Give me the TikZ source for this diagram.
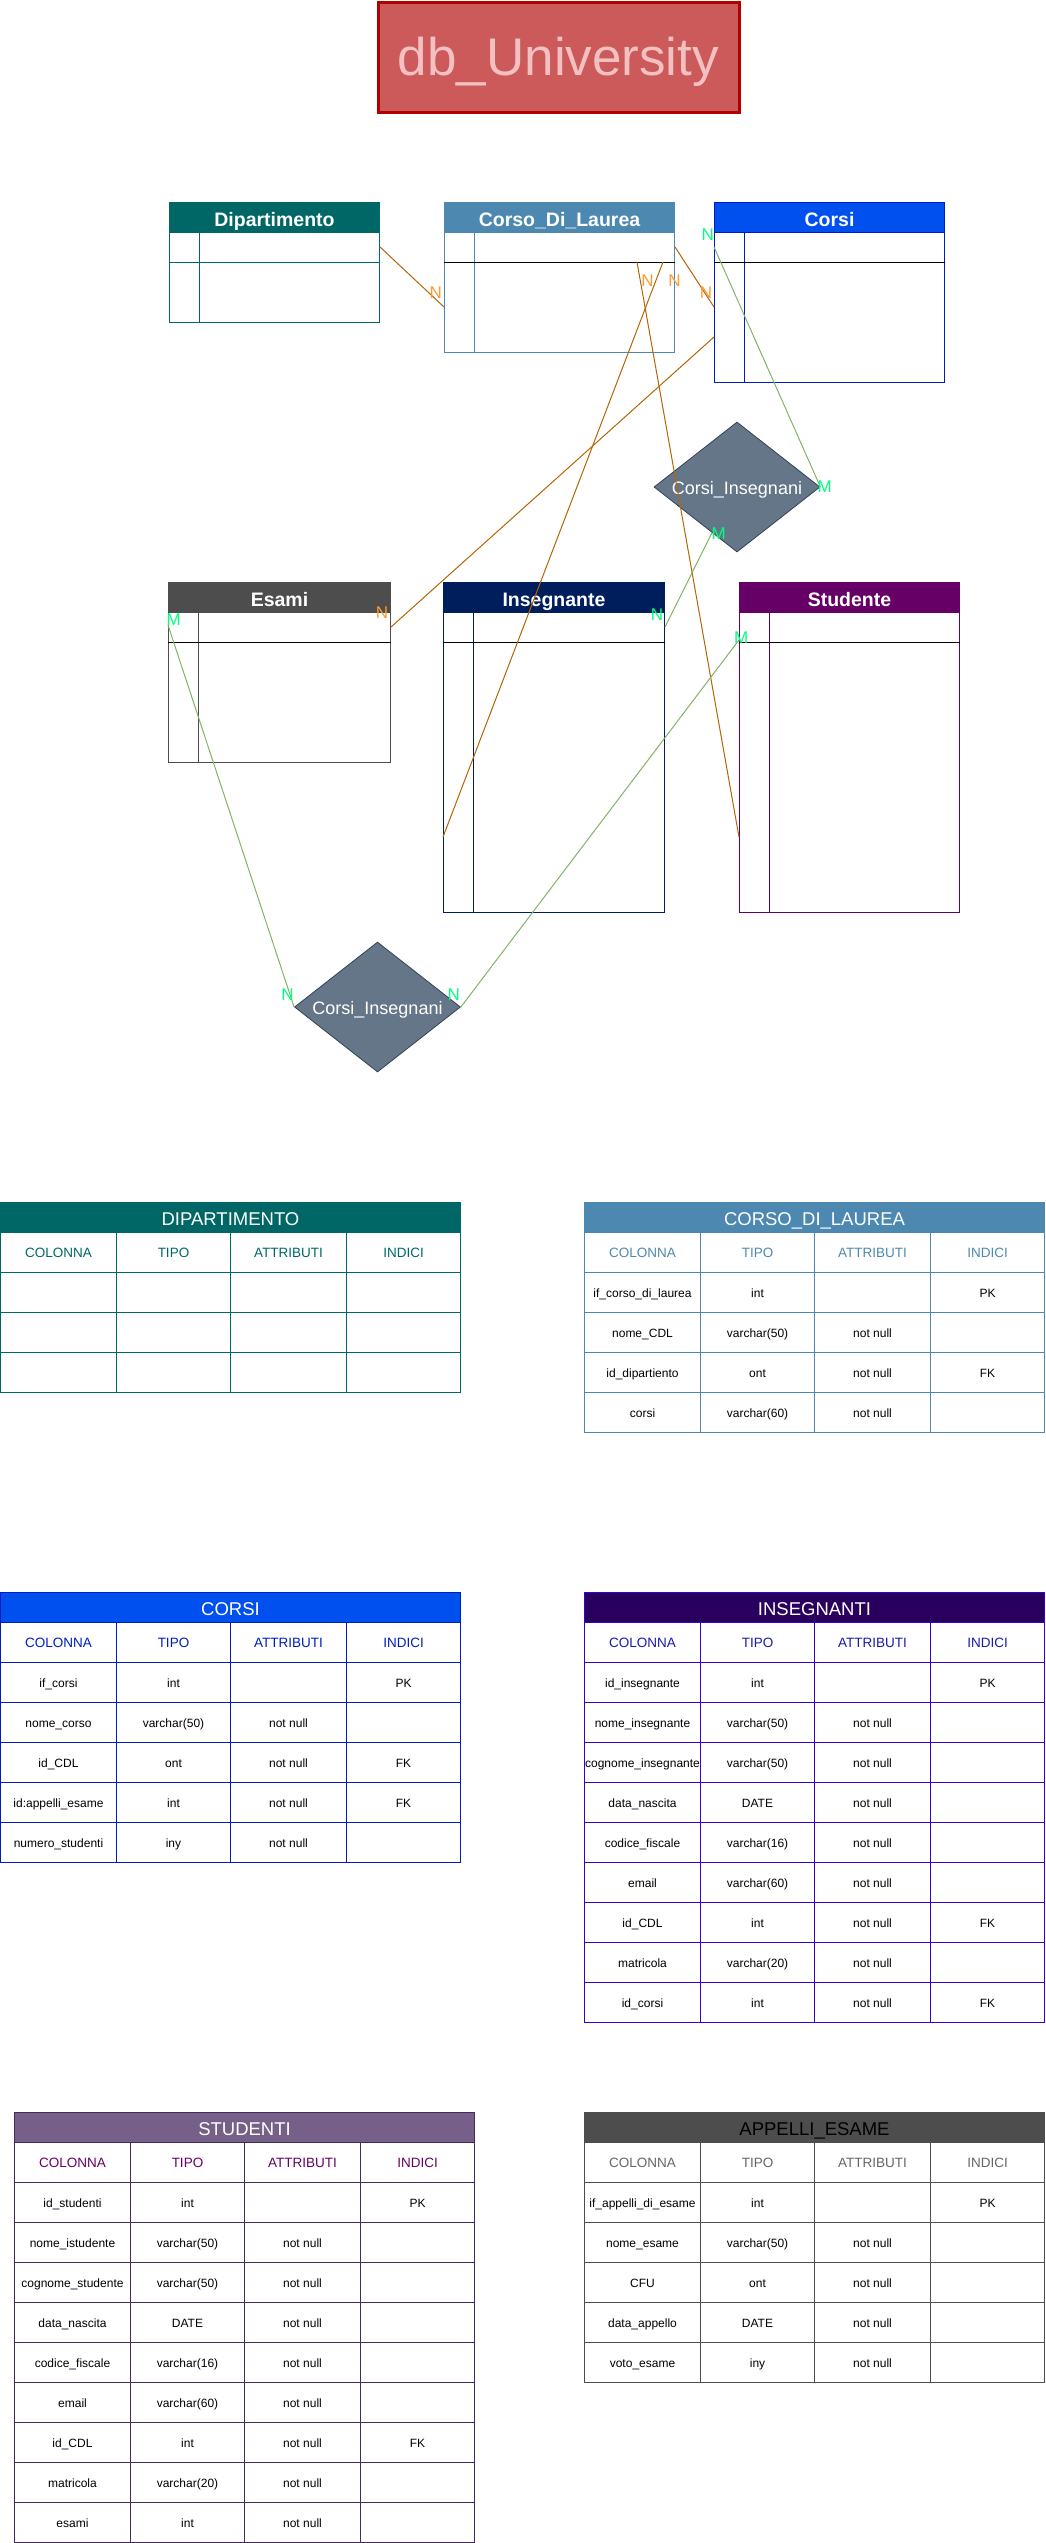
\documentclass[tikz,border=0pt]{standalone}
\usepackage{fontspec}
\setmainfont{Liberation Sans}
\usetikzlibrary{shapes.geometric,calc}

% palette
\definecolor{dipc}{HTML}{006666}
\definecolor{cdlc}{HTML}{4D88B0}
\definecolor{corsic}{HTML}{0050EF}
\definecolor{corsib}{HTML}{001DBC}
\definecolor{esamic}{HTML}{4D4D4D}
\definecolor{insc}{HTML}{001E5C}
\definecolor{stuc}{HTML}{660066}
\definecolor{relfill}{HTML}{647687}
\definecolor{reldraw}{HTML}{314354}
\definecolor{fkline}{HTML}{B46504}
\definecolor{fklab}{HTML}{FF9933}
\definecolor{mmline}{HTML}{82B366}
\definecolor{mmlab}{HTML}{00FF80}
\definecolor{titlefill}{HTML}{CC5A5A}
\definecolor{titledraw}{HTML}{B20000}
\definecolor{titletext}{HTML}{F2C0C0}
\definecolor{insgfill}{HTML}{2A005E}
\definecolor{insgdraw}{HTML}{3700CC}
\definecolor{insgtext}{HTML}{1A1AA6}
\definecolor{stugfill}{HTML}{76608A}
\definecolor{stugdraw}{HTML}{432D57}
\definecolor{appgtext}{HTML}{666666}

\newcommand{\colfnt}{\fontsize{13.5}{16}\selectfont}
\newcommand{\cellfnt}{\fontsize{12}{14}\selectfont}

\tikzset{
  entbox/.style={draw, anchor=north west, inner sep=0pt, line width=1pt},
  enthead/.style={draw, anchor=north west, inner sep=0pt, minimum height=30pt,
    line width=1pt, text=white, text height=18pt, text depth=0pt,
    font=\bfseries\fontsize{19.5}{22}\selectfont},
  rel/.style={diamond, aspect=1.277, minimum width=166pt, minimum height=130pt,
    inner sep=0pt, fill=relfill, draw=reldraw, line width=0.8pt, text=white,
    text height=14pt, text depth=0pt, font=\fontsize{18}{20}\selectfont},
  fkedge/.style={draw=fkline, line width=1pt},
  mmedge/.style={draw=mmline, line width=1pt},
  card/.style={inner sep=0pt, font=\fontsize{17}{18}\selectfont},
  fkcard/.style={card, text=fklab},
  mmcard/.style={card, text=mmlab},
  tblhead/.style={draw, anchor=north west, minimum width=460pt, minimum height=30pt,
    inner sep=0pt, line width=1pt, text height=15pt, text depth=0pt,
    font=\fontsize{18.5}{21}\selectfont},
  cell/.style={draw, anchor=north west, minimum height=40pt, inner sep=0pt,
    line width=1pt, text height=10pt, text depth=0pt},
}

% ER entity: name, top-left, width, height, title, header fill, rule colour
\newcommand{\entity}[7]{%
  \node[entbox, draw=#7, minimum width=#3pt, minimum height=#4pt] (#1) at (#2) {};
  \node[enthead, fill=#6, draw=#7, minimum width=#3pt] (#1-h) at (#1.north west) {#5};
  \draw[#7, line width=1pt] ($(#1.north west)+(30,30)$) -- ($(#1.south west)+(30,0)$);
}

% table: name, top-left, title, head fill, rule colour, title colour, column-title colour, rows
\newcommand{\dbtable}[8]{%
  \node[tblhead, fill=#4, draw=#5, text=#6] (#1-h) at (#2) {#3};
  \foreach \ca/\cb/\cc/\cd [count=\rw] in {COLONNA/TIPO/ATTRIBUTI/INDICI,#8} {
    \ifnum\rw=1 \def\tc{#7}\def\fs{\colfnt}\else\def\tc{black}\def\fs{\cellfnt}\fi
    \node[cell, draw=#5, text=\tc, minimum width=116pt] (#1-\rw-1)
      at ([shift={(0,30+40*(\rw-1))}]#2) {\fs\ca};
    \node[cell, draw=#5, text=\tc, minimum width=114pt] (#1-\rw-2)
      at ([shift={(116,30+40*(\rw-1))}]#2) {\fs\cb};
    \node[cell, draw=#5, text=\tc, minimum width=116pt] (#1-\rw-3)
      at ([shift={(230,30+40*(\rw-1))}]#2) {\fs\cc};
    \node[cell, draw=#5, text=\tc, minimum width=114pt] (#1-\rw-4)
      at ([shift={(346,30+40*(\rw-1))}]#2) {\fs\cd};
  }
}

\begin{document}
\begin{tikzpicture}[x=1pt, y=-1pt]
\useasboundingbox (0,0) rectangle (1045,2543);

% title
\node[draw=titledraw, fill=titlefill, line width=3pt, minimum width=361pt,
  minimum height=110pt, inner sep=0pt, text=titletext, text height=36pt,
  text depth=0pt, font=\fontsize{53}{58}\selectfont] (title) at (558.5,57) {db\_University};

% ER entities
\entity{dip}{169,202}{210}{120}{Dipartimento}{dipc}{dipc}
\draw[dipc, line width=1pt] ($(dip.north west)+(0,60)$) -- ($(dip.north east)+(0,60)$);
\entity{cdl}{444,202}{230}{150}{Corso\_Di\_Laurea}{cdlc}{cdlc}
\draw[black, line width=1pt] ($(cdl.north west)+(0,60)$) -- ($(cdl.north east)+(0,60)$);
\entity{corsi}{714,202}{230}{180}{Corsi}{corsic}{corsib}
\draw[black, line width=1pt] ($(corsi.north west)+(0,60)$) -- ($(corsi.north east)+(0,60)$);
\entity{esami}{168,582}{222}{180}{Esami}{esamic}{esamic}
\draw[black, line width=1pt] ($(esami.north west)+(0,60)$) -- ($(esami.north east)+(0,60)$);
\entity{ins}{443,582}{221}{330}{Insegnante}{insc}{insc}
\draw[black, line width=1pt] ($(ins.north west)+(0,60)$) -- ($(ins.north east)+(0,60)$);
\entity{stu}{739,582}{220}{330}{Studente}{stuc}{stuc}
\draw[black, line width=1pt] ($(stu.north west)+(0,60)$) -- ($(stu.north east)+(0,60)$);

% relationships
\node[rel] (d1) at (737,487) {Corsi\_Insegnani};
\node[rel] (d2) at (377.5,1007) {Corsi\_Insegnani};

% tables
\dbtable{tdip}{0,1202}{DIPARTIMENTO}{dipc}{dipc}{white}{dipc}{///,///,///}
\dbtable{tcdl}{584,1202}{CORSO\_DI\_LAUREA}{cdlc}{cdlc}{white}{cdlc}{%
if\_corso\_di\_laurea/int//PK,nome\_CDL/varchar(50)/not null/,%
id\_dipartiento/ont/not null/FK,corsi/varchar(60)/not null/}
\dbtable{tcorsi}{0,1592}{CORSI}{corsic}{corsib}{white}{corsib}{%
if\_corsi/int//PK,nome\_corso/varchar(50)/not null/,id\_CDL/ont/not null/FK,%
id:appelli\_esame/int/not null/FK,numero\_studenti/iny/not null/}
\dbtable{tins}{584,1592}{INSEGNANTI}{insgfill}{insgdraw}{white}{insgtext}{%
id\_insegnante/int//PK,nome\_insegnante/varchar(50)/not null/,%
cognome\_insegnante/varchar(50)/not null/,data\_nascita/DATE/not null/,%
codice\_fiscale/varchar(16)/not null/,email/varchar(60)/not null/,%
id\_CDL/int/not null/FK,matricola/varchar(20)/not null/,id\_corsi/int/not null/FK}
\dbtable{tstu}{14,2112}{STUDENTI}{stugfill}{stugdraw}{white}{stuc}{%
id\_studenti/int//PK,nome\_istudente/varchar(50)/not null/,%
cognome\_studente/varchar(50)/not null/,data\_nascita/DATE/not null/,%
codice\_fiscale/varchar(16)/not null/,email/varchar(60)/not null/,%
id\_CDL/int/not null/FK,matricola/varchar(20)/not null/,esami/int/not null/}
\dbtable{tapp}{584,2112}{APPELLI\_ESAME}{esamic}{esamic}{black}{appgtext}{%
if\_appelli\_di\_esame/int//PK,nome\_esame/varchar(50)/not null/,%
CFU/ont/not null/,data\_appello/DATE/not null/,voto\_esame/iny/not null/}

% one-to-many links
\draw[fkedge] ($(dip.north east)+(0,45)$) -- ($(cdl.north west)+(0,105)$);
\draw[fkedge] ($(cdl.north east)+(0,45)$) -- ($(corsi.north west)+(0,105)$);
\draw[fkedge] ($(corsi.north west)+(0,135)$) -- ($(esami.north east)+(0,45)$);
\draw[fkedge] ($(cdl.north west)+(193,60)$) -- ($(stu.north west)+(0,255)$);
\draw[fkedge] ($(cdl.north west)+(219,60)$) -- ($(ins.north west)+(0,255)$);

% many-to-many links
\draw[mmedge] ($(corsi.north west)+(0,45)$) -- (d1.east);
\draw[mmedge] ($(d1.west)!0.7!(d1.south)$) -- ($(ins.north east)+(0,45)$);
\draw[mmedge] ($(esami.north west)+(0,43)$) -- (d2.west);
\draw[mmedge] ($(stu.north west)+(0,58)$) -- (d2.east);

% cardinalities
\node[fkcard] (c1) at (435.7,292.7) {N};
\node[fkcard] (c2) at (706,292.7) {N};
\node[fkcard] (c3) at (382,612.7) {N};
\node[fkcard] (c4) at (647.4,280.7) {N};
\node[fkcard] (c5) at (674.5,280.7) {N};
\node[mmcard] (c6) at (707.7,234.7) {N};
\node[mmcard] (c7) at (824.8,487) {M};
\node[mmcard] (c8) at (718.6,533.3) {M};
\node[mmcard] (c9) at (657,615) {N};
\node[mmcard] (c10) at (173.8,620) {M};
\node[mmcard] (c11) at (741.3,637.7) {M};
\node[mmcard] (c12) at (287.5,995) {N};
\node[mmcard] (c13) at (453.7,995) {N};
\end{tikzpicture}
\end{document}
